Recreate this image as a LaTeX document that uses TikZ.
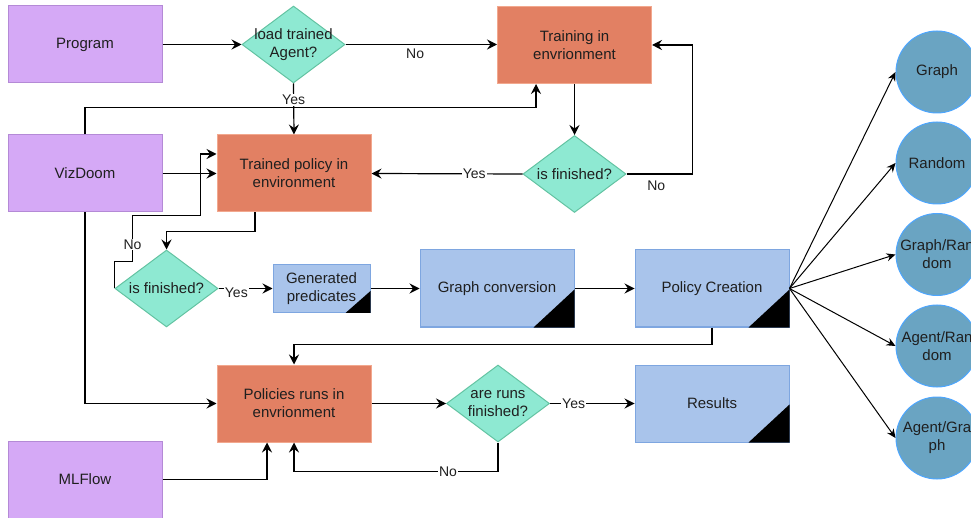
\documentclass[tikz,border=0pt]{standalone}
\usepackage{fontspec}
\setmainfont{Liberation Sans}
\usetikzlibrary{shapes.geometric,arrows.meta,calc}
\definecolor{purp}{HTML}{D5A9F6}
\definecolor{purpd}{HTML}{B48AD6}
\definecolor{oran}{HTML}{E28063}
\definecolor{orand}{HTML}{F2A88E}
\definecolor{grn}{HTML}{8EE9D2}
\definecolor{grnd}{HTML}{63C3A2}
\definecolor{blu}{HTML}{A9C4EB}
\definecolor{blud}{HTML}{7EA6E0}
\definecolor{circf}{HTML}{6AA4C2}
\definecolor{circd}{HTML}{4DA6FF}
\begin{document}
\begin{tikzpicture}[x=1pt,y=-1pt,
  font=\fontsize{15}{18}\selectfont,
  box/.style={draw, line width=1pt, minimum width=154pt, minimum height=77pt, align=center, inner sep=0pt, text=black!88},
  pbox/.style={box, fill=purp, draw=purpd},
  obox/.style={box, fill=oran, draw=orand},
  bbox/.style={box, fill=blu, draw=blud},
  dia/.style={diamond, draw=grnd, fill=grn, line width=1pt, minimum width=103pt, minimum height=77pt, inner sep=0pt},
  circnode/.style={circle, draw=circd, fill=circf, line width=1pt, minimum size=82pt, inner sep=0pt},
  every label/.style={align=center, text=black!88, inner sep=0pt},
  arr/.style={-{Stealth[length=10pt,width=10pt,inset=3.5pt]}, line width=1.2pt},
  thinarr/.style={-{Stealth[length=9pt,width=8pt,inset=3pt]}, line width=1pt},
  lab/.style={font=\fontsize{14}{16}\selectfont, fill=white, inner sep=1pt, text=black!88},
  labnf/.style={lab, fill=none}
]
\useasboundingbox (0,0) rectangle (971,518);
\clip (0,0) rectangle (971,518);

% nodes
\node[pbox] (prog) at (85,44.5) {Program};
\node[dia, label={center:{load trained\\Agent?}}] (load) at (293.5,44.5) {};
\node[obox] (train) at (574.5,45) {Training in\\envrionment};
\node[pbox] (viz) at (85,173.5) {VizDoom};
\node[obox] (tpol) at (294,173.5) {Trained policy in\\environment};
\node[dia, label={center:{is finished?}}] (fin1) at (574.5,174) {};
\node[dia, label={center:{is finished?}}] (fin2) at (166.5,288.5) {};
\node[bbox, minimum width=97pt, minimum height=48pt] (gen) at (321.5,288.5) {Generated\\predicates};
\node[bbox] (gconv) at (497,288.5) {Graph conversion};
\node[bbox] (pcre) at (712,288.5) {Policy Creation};
\node[obox] (pol) at (294,403.5) {Policies runs in\\envrionment};
\node[dia, label={center:{are runs\\finished?}}] (runs) at (498,403.5) {};
\node[bbox] (res) at (712,403.5) {Results};
\node[pbox] (mlf) at (85,479.5) {MLFlow};

\node[circnode, label={center:Graph}] (c1) at (937,72) {};
\node[circnode, label={center:Random}] (c2) at (937,163) {};
\node[circnode, label={center:{Graph/Ran\\dom}}] (c3) at (937,254.5) {};
\node[circnode, label={center:{Agent/Ran\\dom}}] (c4) at (937,346) {};
\node[circnode, label={center:{Agent/Gra\\ph}}] (c5) at (937,438) {};

% black corner triangles
\fill (gen.south east) -- ++(-25,0) -- ++(25,-22) -- cycle;
\fill (gconv.south east) -- ++(-41,0) -- ++(41,-38) -- cycle;
\fill (pcre.south east) -- ++(-41,0) -- ++(41,-38) -- cycle;
\fill (res.south east) -- ++(-41,0) -- ++(41,-38) -- cycle;

% connectors
\draw[arr] (prog.east) -- (load.west);
\draw[arr] (load.east) -- node[pos=.46, below=3pt, labnf] {No} (load.east -| train.west);
\draw[arr] (viz.north) -- ++(0,-27) -| ([xshift=-38.5]train.south);
\draw[arr] (load.south) -- node[pos=.32, lab] {Yes} (tpol.north);
\draw[arr] (viz.east) -- (tpol.west);
\draw[arr] (train.south) -- (fin1.north);
\draw[arr] (fin1.west) -- node[pos=.32, lab] {Yes} (tpol.east);
\draw[arr] (fin1.east) -- ++(66,0) node[pos=.45, below=5pt, labnf] {No} |- (train.east);
\draw[arr] ([xshift=-39]tpol.south) -- ++(0,19) -| (fin2.north);
\draw[arr] (fin2.west) -- ++(0,-27) -- ++(18,0) -- ++(0,-46) node[pos=.37, lab] {No} -- ++(68,0) |- ([yshift=19.5]tpol.west);
\draw[arr] (fin2.east) -- node[pos=.33, lab, yshift=-4pt] {Yes} (gen.west);
\draw[arr] (gen.east) -- (gconv.west);
\draw[arr] (gconv.east) -- (pcre.west);
\draw[arr] (pcre.south) -- ++(0,17) -| (pol.north);
\draw[arr] (viz.south) |- (pol.west);
\draw[arr] (pol.east) -- (runs.west);
\draw[arr] (runs.east) -- node[pos=.28, lab] {Yes} (res.west);
\draw[arr] (runs.south) -- ++(0,29) coordinate (nc) -- (nc -| pol.south) node[pos=.245, lab] {No} -- (pol.south);
\draw[arr] (mlf.east) -| ([xshift=-27]pol.south);

\foreach \c in {c1,c2,c3,c4,c5}
  \draw[thinarr] (pcre.east) -- (\c.west);
\end{tikzpicture}
\end{document}
